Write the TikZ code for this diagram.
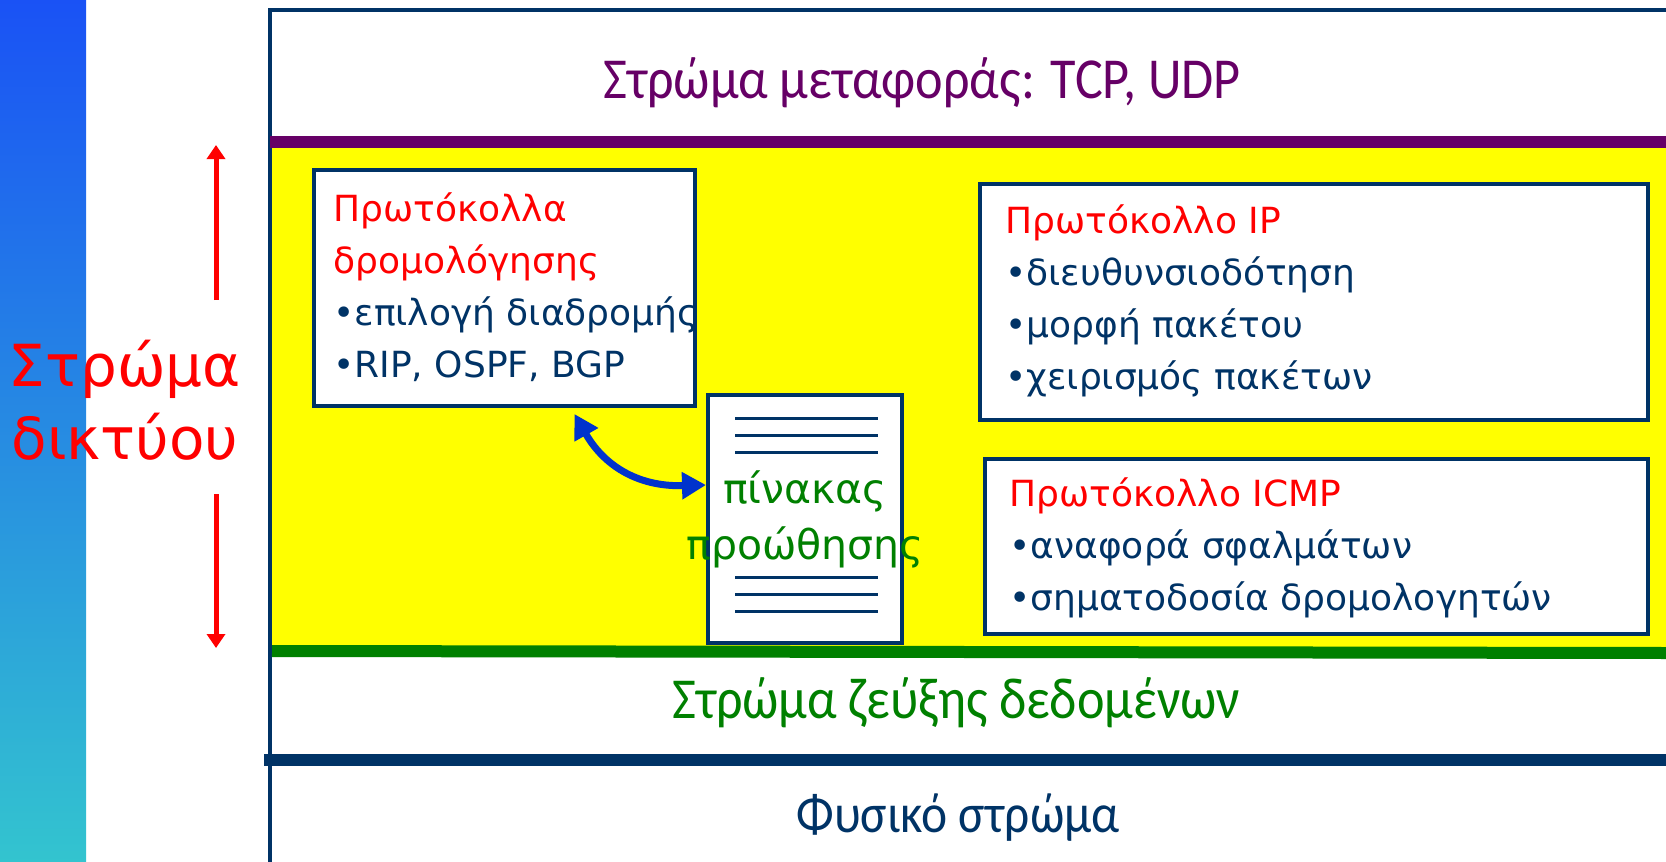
\documentclass[tikz,border=0pt]{standalone}
\usepackage{fontspec}
\setmainfont{DejaVu Sans}
\newfontfamily\layerfont[FakeStretch=0.9]{Carlito}
\usetikzlibrary{positioning,arrows.meta}
\definecolor{navy}{HTML}{003366}
\definecolor{plum}{HTML}{660066}
\definecolor{leaf}{HTML}{008000}
\definecolor{royal}{HTML}{0033CC}
\definecolor{sky}{HTML}{1A52F5}
\definecolor{lagoon}{HTML}{33C4CF}
\definecolor{lemon}{HTML}{FFFF00}
\definecolor{signal}{HTML}{FF0000}
\begin{document}
\begin{tikzpicture}[
		x=0.5pt, y=-0.5pt
		,box/.style={draw=navy, line width=2pt, fill=white, inner sep=0pt, anchor=north west}
		,boxtext/.style={inner sep=0pt, align=left, text=navy, font=\fontsize{18}{26}\selectfont}
		,layer/.style={anchor=base, inner sep=0pt, font=\layerfont\fontsize{29}{30}\selectfont}
		,band/.style={line width=6pt}
		,rule/.style={navy, line width=1.5pt}
		,updown/.style={signal, line width=2.5pt, -{Triangle[width=9pt,length=7pt]}}
	]
	\useasboundingbox (0,0) rectangle (1666,862);
	\shade[top color=sky, bottom color=lagoon] (0,0) rectangle (86,862);
	\fill[lemon] (272,147) rectangle (1666,651);
	\draw[navy, line width=2pt] (270,10) rectangle (1700,900);
	\draw[band, plum] (270,142) -- (1666,142);
	\draw[band, leaf] (272,651) -- (1666,653);
	\draw[band, navy] (264,760) -- (1666,760);

	\node[layer, text=plum] (transport) at (922,98) {Στρώμα μεταφοράς: TCP, UDP};
	\node[layer, text=leaf] (link) at (956,718) {Στρώμα ζεύξης δεδομένων};
	\node[layer, text=navy, font=\layerfont\fontsize{27.5}{30}\selectfont] (phys) at (958,832) {Φυσικό στρώμα};

	\node[text=signal, align=center, font=\fontsize{29}{36.5}\selectfont] (netlayer) at (125,400) {Στρώμα\\δικτύου};
	\coordinate (upfoot) at (216,300);
	\coordinate (uptip) at (216,145);
	\coordinate (downfoot) at (216,494);
	\coordinate (downtip) at (216,648);
	\draw[updown] (upfoot) -- (uptip);
	\draw[updown] (downfoot) -- (downtip);

	\node[box, minimum width=190.5pt, minimum height=118pt] (route) at (312,168) {};
	\node[boxtext, below right=12pt and 10.5pt of route.north west] (routetext)
		{\textcolor{signal}{Πρωτόκολλα}\\\textcolor{signal}{δρομολόγησης}\\•επιλογή διαδρομής\\•RIP, OSPF, BGP};

	\node[box, minimum width=334pt, minimum height=118pt] (ip) at (978,182) {};
	\node[boxtext, below right=11pt and 13.5pt of ip.north west] (iptext)
		{\textcolor{signal}{Πρωτόκολλο IP}\\•διευθυνσιοδότηση\\•μορφή πακέτου\\•χειρισμός πακέτων};

	\node[box, minimum width=331.5pt, minimum height=87.5pt] (icmp) at (983,457) {};
	\node[boxtext, below right=10pt and 13pt of icmp.north west] (icmptext)
		{\textcolor{signal}{Πρωτόκολλο ICMP}\\•αναφορά σφαλμάτων\\•σηματοδοσία δρομολογητών};

	\node[box, minimum width=97pt, minimum height=124pt] (table) at (706,393) {};
	\foreach \y in {418,435,452,577,594,611}
		\draw[rule] (735,\y) -- (878,\y);
	\node[text=leaf, align=center, font=\fontsize{20.5}{28}\selectfont] (tablename) at (table.center) {πίνακας\\προώθησης};

	\draw[royal, line width=3.5pt, {Triangle[width=13pt,length=12pt]}-{Triangle[width=13pt,length=12pt]}]
		([xshift=35pt,yshift=-3pt]route.south) .. controls (603,464) and (636,487) .. ([yshift=17pt]table.west);
\end{tikzpicture}
\end{document}
